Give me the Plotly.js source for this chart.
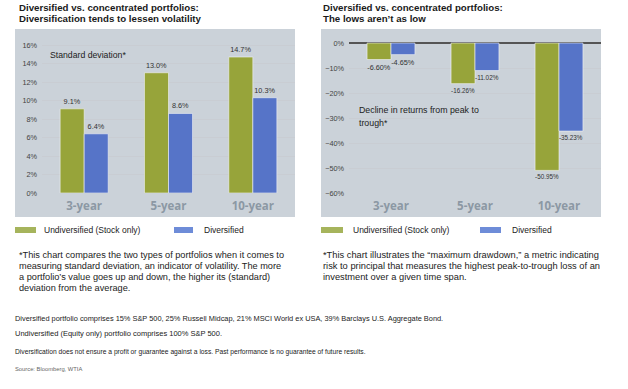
<!DOCTYPE html>
<html><head><meta charset="utf-8">
<script src="https://cdn.plot.ly/plotly-3.0.1.min.js"></script>
<style>html,body{margin:0;padding:0;background:#fff}#chart{width:628px;height:389px}</style>
</head><body><div id="chart"></div>
<script>
// ---- data ----
const periods = ['3-year', '5-year', '10-year'];
const seriesNames = ['Undiversified (Stock only)', 'Diversified'];
const stdUndiversified = [9.1, 13.0, 14.7];
const stdDiversified = [6.4, 8.6, 10.3];
const ddUndiversified = [-6.60, -16.26, -50.95];
const ddDiversified = [-4.65, -11.02, -35.23];
const leftTitle = ['Diversified vs. concentrated portfolios:', 'Diversification tends to lessen volatility'];
const rightTitle = ['Diversified vs. concentrated portfolios:', 'The lows aren\u2019t as low'];
const leftLabel = ['Standard deviation*'];
const rightLabel = ['Decline in returns from peak to', 'trough*'];
const leftNote = [
  '*This chart compares the two types of portfolios when it comes to',
  'measuring standard deviation, an indicator of volatility. The more',
  'a portfolio\u2019s value goes up and down, the higher its (standard)',
  'deviation from the average.'
];
const rightNote = [
  '*This chart illustrates the \u201cmaximum drawdown,\u201d a metric indicating',
  'risk to principal that measures the highest peak-to-trough loss of an',
  'investment over a given time span.'
];
const footLines = [
  'Diversified portfolio comprises 15% S&P 500, 25% Russell Midcap, 21% MSCI World ex USA, 39% Barclays U.S. Aggregate Bond.',
  'Undiversified (Equity only) portfolio comprises 100% S&P 500.',
  'Diversification does not ensure a profit or guarantee against a loss. Past performance is no guarantee of future results.',
  'Source: Bloomberg, WTIA'
];

// ---- style ----
const W = 628, H = 389;
const GREEN = '#97a43a', BLUE = '#5674c8';
const GREEN_L = '#a6b45c', BLUE_L = '#6e8cd8';
const PLOT_BG = '#e8e9ec', STRIP = '#cbd2d9';
const FONT = '"Liberation Sans", Arial, sans-serif';
const px = v => v / W;
const py = v => (H - v) / H;

const bar = (x, y, name, color, xa, ya, fmt) => ({
  type: 'bar', x: x, y: y, name: name, xaxis: xa, yaxis: ya,
  marker: {color: color, line: {color: '#f2f3f5', width: 0.6}},
  texttemplate: fmt, textposition: 'outside', cliponaxis: false,
  textfont: {family: FONT, size: 7.3, color: '#333'},
  showlegend: false, hoverinfo: 'skip'
});

const data = [
  bar(periods, stdUndiversified, seriesNames[0], GREEN, 'x', 'y', '%{y:.1f}%'),
  bar(periods, stdDiversified, seriesNames[1], BLUE, 'x', 'y', '%{y:.1f}%'),
  bar(periods, ddUndiversified, seriesNames[0], GREEN, 'x2', 'y2', '%{y:.2f}%'),
  bar(periods, ddDiversified, seriesNames[1], BLUE, 'x2', 'y2', '%{y:.2f}%')
];

const yDom = [py(193), py(29)];
const xaxisBase = {
  type: 'category', showgrid: false, zeroline: false, showline: false,
  ticks: '', ticklabelstandoff: 4,
  tickfont: {family: '"Open Sans", "DejaVu Sans", sans-serif', size: 11.5, color: '#8c98a4', weight: 'bold'},
  fixedrange: true
};
const yaxisBase = {
  showgrid: true, gridcolor: '#c9cdd3', gridwidth: 1, showline: false, ticks: '',
  ticksuffix: '%', ticklabelstandoff: 4,
  tickfont: {family: FONT, size: 7.3, color: '#444'}, fixedrange: true
};

const shapes = [
  {type: 'rect', xref: 'paper', yref: 'paper', x0: px(15), x1: px(295), y0: py(217), y1: py(29), fillcolor: STRIP, line: {width: 0}, layer: 'below'},
  {type: 'rect', xref: 'paper', yref: 'paper', x0: px(321), x1: px(601), y0: py(217), y1: py(29), fillcolor: STRIP, line: {width: 0}, layer: 'below'}
];
const annotations = [];
const line = (text, x, yc, size, color, bold) => annotations.push({
  text: bold ? '<b>' + text + '</b>' : text,
  xref: 'paper', yref: 'paper', x: px(x), y: py(yc), xanchor: 'left', yanchor: 'middle',
  showarrow: false, align: 'left', font: {family: FONT, size: size, color: color || '#222'}
});
const lines = (arr, x, y0, dy, size, color, bold) => arr.forEach((t, i) => line(t, x, y0 + i * dy, size, color, bold));

lines(leftTitle, 16.5, 7.5, 11, 9.7, '#1a1a1a', true);
lines(rightTitle, 320.5, 7.5, 11, 9.7, '#1a1a1a', true);
lines(leftLabel, 48, 55, 13, 8.7, '#222');
lines(rightLabel, 357, 110, 13, 8.8, '#222');

// legends (swatches + series names)
const legendRows = [
  {sw: [[15, 36], [174, 193]], tx: [42, 202]},
  {sw: [[321, 343], [480, 501]], tx: [351, 510]}
];
legendRows.forEach(r => {
  [GREEN_L, BLUE_L].forEach((c, i) => {
    shapes.push({type: 'rect', xref: 'paper', yref: 'paper', x0: px(r.sw[i][0]), x1: px(r.sw[i][1]), y0: py(233), y1: py(227), fillcolor: c, line: {width: 0}});
    line(seriesNames[i], r.tx[i], 230, 8.5, '#222');
  });
});

lines(leftNote, 16.5, 255, 11, 9.2, '#222');
lines(rightNote, 320.5, 255, 11, 9.3, '#222');
line(footLines[0], 12.5, 318, 7.4, '#222');
line(footLines[1], 12.5, 333, 7.5, '#222');
line(footLines[2], 12.5, 352, 6.7, '#222');
line(footLines[3], 12.5, 369, 5.8, '#666');

const layout = {
  width: W, height: H, margin: {l: 0, r: 0, t: 0, b: 0},
  paper_bgcolor: '#ffffff', plot_bgcolor: PLOT_BG,
  barmode: 'group', bargap: 0.43, bargroupgap: 0,
  showlegend: false,
  xaxis: Object.assign({}, xaxisBase, {domain: [px(42), px(295)], anchor: 'y'}),
  yaxis: Object.assign({}, yaxisBase, {domain: yDom, anchor: 'x', range: [0, 17.73], dtick: 2, tick0: 0, zeroline: false}),
  xaxis2: Object.assign({}, xaxisBase, {domain: [px(349), px(601)], anchor: 'y2'}),
  yaxis2: Object.assign({}, yaxisBase, {domain: yDom, anchor: 'x2', range: [-60, 5.6], dtick: 10, tick0: 0, zeroline: true, zerolinecolor: '#555', zerolinewidth: 1.5}),
  shapes: shapes, annotations: annotations
};

Plotly.newPlot('chart', data, layout, {displayModeBar: false, staticPlot: true});
</script></body></html>
